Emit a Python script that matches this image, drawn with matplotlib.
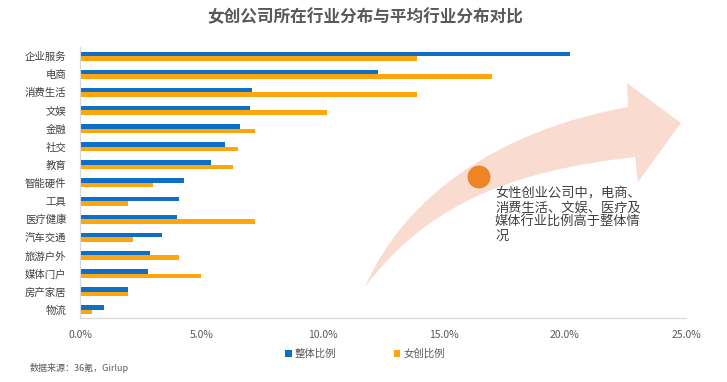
import matplotlib
matplotlib.use("Agg")
import matplotlib.pyplot as plt
import numpy as np
from matplotlib.path import Path
from matplotlib.patches import PathPatch, Circle
from matplotlib.transforms import Affine2D

plt.rcParams['font.family'] = ['Noto Sans CJK SC', 'DejaVu Sans']

categories = ['企业服务', '电商', '消费生活', '文娱', '金融', '社交', '教育', '智能硬件',
              '工具', '医疗健康', '汽车交通', '旅游户外', '媒体门户', '房产家居', '物流']
overall = [20.2, 12.3, 7.1, 7.0, 6.6, 6.0, 5.4, 4.3, 4.1, 4.0, 3.4, 2.9, 2.8, 2.0, 1.0]
female = [13.9, 17.0, 13.9, 10.2, 7.2, 6.5, 6.3, 3.0, 2.0, 7.2, 2.2, 4.1, 5.0, 2.0, 0.5]
series_names = ['整体比例', '女创比例']
xticks = [0, 5, 10, 15, 20, 25]

blue = '#0F6FC6'
orange = '#FFA60F'
grey = '#595959'

W, H = 727, 382
fig = plt.figure(figsize=(W / 100, H / 100), dpi=100)
ax = fig.add_axes([80 / W, 1 - 318 / H, 606 / W, 271 / H])

y = np.arange(len(categories))
bh = 0.25
ax.barh(y - bh / 2, overall, height=bh, color=blue, label=series_names[0])
ax.barh(y + bh / 2, female, height=bh, color=orange, label=series_names[1])

ax.set_ylim(14.45, -0.5)
ax.set_xlim(0, 25)
ax.set_yticks(y)
ax.set_yticklabels(categories, fontsize=7.5, color='#404040')
ax.set_xticks(xticks)
ax.set_xticklabels(['%.1f%%' % v for v in xticks], fontsize=7.5, color=grey)
ax.tick_params(length=0, pad=10)
ax.tick_params(axis='x', pad=9)
for s in ['top', 'right']:
    ax.spines[s].set_visible(False)
for s in ['left', 'bottom']:
    ax.spines[s].set_color('#D9D9D9')
    ax.spines[s].set_linewidth(0.8)

fig.text(365 / W, 1 - 17 / H, '女创公司所在行业分布与平均行业分布对比', ha='center', va='center',
         fontsize=12, fontweight='bold', color=grey)

# decorative curved arrow (pixel coords, y down)
px = Affine2D().scale(1 / W, -1 / H).translate(0, 1) + fig.transFigure
verts = [(365, 287),
         (405, 195), (500, 130), (628, 107),
         (627, 83), (681, 123), (638, 182), (635, 157),
         (520, 170), (430, 200), (365, 287),
         (365, 287)]
codes = [Path.MOVETO,
         Path.CURVE4, Path.CURVE4, Path.CURVE4,
         Path.LINETO, Path.LINETO, Path.LINETO, Path.LINETO,
         Path.CURVE4, Path.CURVE4, Path.CURVE4,
         Path.CLOSEPOLY]
arrow = PathPatch(Path(verts, codes), transform=px, facecolor='#FADBCF',
                  edgecolor='none', zorder=1)
fig.add_artist(arrow)
fig.add_artist(Circle((479, 177), 11, transform=px, facecolor='#EE8422',
                      edgecolor='#E07A1C', linewidth=0.5, zorder=2))

fig.text(495 / W, 1 - 187 / H, '女性创业公司中，电商、\n消费生活、文娱、医疗及\n媒体行业比例高于整体情\n况',
         ha='left', va='top', fontsize=9.5, color='#404040', linespacing=1.12, zorder=3)

handles, labels = ax.get_legend_handles_labels()
fig.legend(handles, labels, loc='center', bbox_to_anchor=(365 / W, 1 - 354 / H), ncol=2,
           frameon=False, fontsize=7.5, handlelength=0.6, handleheight=0.6,
           handletextpad=0.3, columnspacing=5.5, labelcolor=grey)

fig.text(30 / W, 1 - 368 / H, '数据来源：36氪，Girlup', ha='left', va='center',
         fontsize=6.5, color=grey)

fig.savefig('out.png', dpi=100)
